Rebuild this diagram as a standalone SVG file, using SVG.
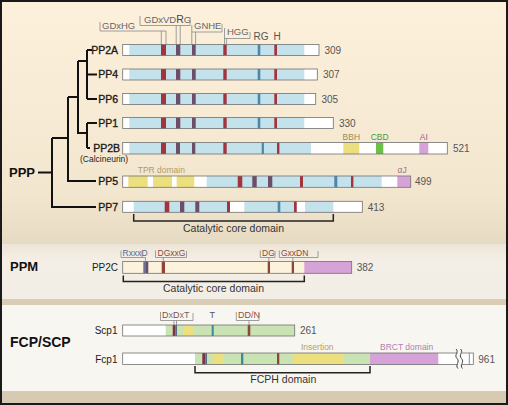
<svg xmlns="http://www.w3.org/2000/svg" width="508" height="405" viewBox="0 0 508 405">
<defs>
<linearGradient id="gPPP" x1="0" y1="0" x2="0" y2="1">
<stop offset="0" stop-color="#fdf1dc"/>
<stop offset="0.8" stop-color="#f3e6cf"/>
<stop offset="1" stop-color="#e7dac3"/>
</linearGradient>
<linearGradient id="gPPM" x1="0" y1="0" x2="0" y2="1">
<stop offset="0" stop-color="#ede5d7"/>
<stop offset="0.3" stop-color="#f4efe6"/>
<stop offset="1" stop-color="#f3eee5"/>
</linearGradient>
<style>
text{font-family:"Liberation Sans",Arial,sans-serif}
.bar{fill:none;stroke:#707070;stroke-width:0.8}
.w{fill:#ffffff}
.b{fill:#c3e2ec}
.r{fill:#a3343c}
.d{fill:#6e4d66}
.s{fill:#4b86ab}
.y{fill:#ece07e}
.g{fill:#c9e3b5}
.cg{fill:#6cc04a}
.p{fill:#d6a3d8}
.c{fill:#fdf3dd}
.rb{fill:#8e4538}
.sl{fill:#69709a}
.tl{fill:#3e8a9a}
.lab{font-size:10.5px;fill:#1a1a1a;stroke:#1a1a1a;stroke-width:0.35;text-anchor:end}
.lab2{font-size:10px;fill:#1a1a1a;text-anchor:end}
.num{font-size:10px;fill:#555}
.fam{font-size:13px;font-weight:bold;fill:#111}
.mot{font-size:9.5px;fill:#666}
.brk{fill:none;stroke:#888;stroke-width:0.8}
.tree{fill:none;stroke:#111;stroke-width:2}
.dom{fill:none;stroke:#222;stroke-width:1.5}
.cap{font-size:10.5px;fill:#333;text-anchor:middle}
.small{font-size:8.5px}
</style>
</defs>

<!-- backgrounds -->
<rect x="0" y="0" width="508" height="244" fill="url(#gPPP)"/>
<rect x="0" y="244" width="508" height="55" fill="url(#gPPM)"/>
<rect x="0" y="299" width="508" height="6" fill="#dacdb5"/>
<rect x="0" y="305" width="508" height="86" fill="#f8f6f1"/>
<rect x="0" y="391" width="508" height="14" fill="#d6cab2"/>
<rect x="1" y="1" width="506" height="403" fill="none" stroke="#1a1a1a" stroke-width="2"/>

<!-- family labels -->
<text class="fam" x="9" y="177">PPP</text>
<text class="fam" x="10" y="270.7">PPM</text>
<text class="fam" x="10" y="347" style="font-size:14px">FCP/SCP</text>

<!-- connectors (tree) -->
<g id="connectors">
<path class="tree" d="M38,172.5 H52 M52,138 V207 H96 M52,138 H68 M68,97 V181 H96 M68,97 H78 M78,61 V133 H87 M78,61 H87 M87,50 V99 M87,50 H92 M87,74.5 H97 M87,99 H97 M87,123 V148 M87,123 H97 M87,148 H90"/>
</g>

<!-- top motif labels -->
<g id="motifs-ppp">
<text class="mot" x="102" y="28.5">GDxHG</text>
<path class="brk" d="M100,22 V31 H166 V44.5 M161.3,31 V44.5"/>
<text class="mot" x="144" y="23">GDxVD<tspan style="font-size:10.5px;fill:#444">R</tspan>G</text>
<path class="brk" d="M140,16 V25.5 H190 V17 M176.2,25.5 V44.5 M180.2,25.5 V44.5"/>
<text class="mot" x="194" y="28.5">GNHE</text>
<path class="brk" d="M191.8,25 V44.5 M191.8,32 H222 V24 M195.6,32 V44.5"/>
<text class="mot" x="227" y="34.5">HGG</text>
<path class="brk" d="M224.5,28 V44.5 M224.5,38.5 H250 V32 M226.6,38.5 V44.5"/>
<text class="mot" x="253.5" y="39.5" style="font-size:10px;fill:#555">RG</text>
<text class="mot" x="273.5" y="39.5" style="font-size:10px;fill:#555">H</text>
</g>

<!-- PP2A -->
<g id="PP2A">
<text class="lab" x="118" y="53.5">PP2A</text>
<rect class="w" x="122.7" y="44.5" width="196.3" height="11"/>
<rect class="b" x="129.3" y="44.5" width="175" height="11"/>
<rect class="r" x="161" y="44.5" width="5" height="11"/>
<rect class="d" x="176" y="44.5" width="4.3" height="11"/>
<rect class="d" x="192" y="44.5" width="3.7" height="11"/>
<rect class="r" x="223.3" y="44.5" width="3.4" height="11"/>
<rect class="s" x="257.7" y="44.5" width="2.6" height="11"/>
<rect class="r" x="274.3" y="44.5" width="2.7" height="11"/>
<rect class="bar" x="122.7" y="44.5" width="196.3" height="11"/>
<text class="num" x="324.5" y="53.5">309</text>
</g>

<!-- PP4 -->
<g id="PP4">
<text class="lab" x="118" y="78">PP4</text>
<rect class="w" x="122.7" y="69" width="194.6" height="11"/>
<rect class="b" x="129.3" y="69" width="175" height="11"/>
<rect class="r" x="161" y="69" width="5" height="11"/>
<rect class="d" x="176" y="69" width="4.3" height="11"/>
<rect class="d" x="192" y="69" width="3.7" height="11"/>
<rect class="r" x="223.3" y="69" width="3.4" height="11"/>
<rect class="s" x="257.7" y="69" width="2.6" height="11"/>
<rect class="r" x="274.3" y="69" width="2.7" height="11"/>
<rect class="bar" x="122.7" y="69" width="194.6" height="11"/>
<text class="num" x="323" y="78">307</text>
</g>

<!-- PP6 -->
<g id="PP6">
<text class="lab" x="118" y="102.5">PP6</text>
<rect class="w" x="122.7" y="93.5" width="193" height="11"/>
<rect class="b" x="129.3" y="93.5" width="175" height="11"/>
<rect class="r" x="161" y="93.5" width="5" height="11"/>
<rect class="d" x="176" y="93.5" width="4.3" height="11"/>
<rect class="d" x="192" y="93.5" width="3.7" height="11"/>
<rect class="r" x="223.3" y="93.5" width="3.4" height="11"/>
<rect class="s" x="257.7" y="93.5" width="2.6" height="11"/>
<rect class="r" x="274.3" y="93.5" width="2.7" height="11"/>
<rect class="bar" x="122.7" y="93.5" width="193" height="11"/>
<text class="num" x="321.5" y="102.5">305</text>
</g>

<!-- PP1 -->
<g id="PP1">
<text class="lab" x="118" y="126.5">PP1</text>
<rect class="w" x="122.7" y="117.5" width="210.6" height="11"/>
<rect class="b" x="129.3" y="117.5" width="175" height="11"/>
<rect class="r" x="161" y="117.5" width="5" height="11"/>
<rect class="d" x="176" y="117.5" width="4.3" height="11"/>
<rect class="d" x="192" y="117.5" width="3.7" height="11"/>
<rect class="r" x="223.3" y="117.5" width="3.4" height="11"/>
<rect class="s" x="257.7" y="117.5" width="2.6" height="11"/>
<rect class="r" x="274.3" y="117.5" width="2.7" height="11"/>
<rect class="bar" x="122.7" y="117.5" width="210.6" height="11"/>
<text class="num" x="339" y="126.5">330</text>
</g>

<!-- PP2B -->
<g id="PP2B">
<text class="lab" x="120" y="151.5">PP2B</text>
<text x="80" y="162" style="font-size:8.5px;fill:#222">(Calcineurin)</text>
<rect class="w" x="122.7" y="142.5" width="324.6" height="11.5"/>
<rect class="b" x="129.3" y="142.5" width="181.7" height="11.5"/>
<rect class="r" x="161" y="142.5" width="5" height="11.5"/>
<rect class="d" x="176" y="142.5" width="4" height="11.5"/>
<rect class="d" x="192" y="142.5" width="3.3" height="11.5"/>
<rect class="r" x="223.3" y="142.5" width="3.4" height="11.5"/>
<rect class="s" x="261.7" y="142.5" width="2.2" height="11.5"/>
<rect class="r" x="277" y="142.5" width="2.4" height="11.5"/>
<rect class="y" x="343.3" y="142.5" width="16" height="11.5"/>
<rect class="cg" x="376" y="142.5" width="7.3" height="11.5"/>
<rect class="p" x="419.3" y="142.5" width="9" height="11.5"/>
<rect class="bar" x="122.7" y="142.5" width="324.6" height="11.5"/>
<text class="small" x="351.3" y="139.5" style="fill:#a08850;text-anchor:middle">BBH</text>
<text class="small" x="379.7" y="139.5" style="fill:#4a9a30;text-anchor:middle">CBD</text>
<text class="small" x="423.8" y="139.5" style="fill:#9a5a9a;text-anchor:middle">AI</text>
<text class="num" x="453" y="151.5">521</text>
</g>

<!-- PP5 -->
<g id="PP5">
<text class="lab" x="118" y="185">PP5</text>
<text class="small" x="137.7" y="172.5" style="fill:#b09a6a">TPR domain</text>
<text class="small" x="397.5" y="172.5" style="fill:#a07090">αJ</text>
<rect class="w" x="122.7" y="176" width="288" height="11.3"/>
<rect class="y" x="128.3" y="176" width="19.4" height="11.3"/>
<rect class="y" x="153" y="176" width="19" height="11.3"/>
<rect class="y" x="176.7" y="176" width="17.6" height="11.3"/>
<rect class="b" x="206.7" y="176" width="175" height="11.3"/>
<rect class="r" x="237.7" y="176" width="4.6" height="11.3"/>
<rect class="d" x="252.3" y="176" width="4.4" height="11.3"/>
<rect class="d" x="268" y="176" width="4.3" height="11.3"/>
<rect class="r" x="300" y="176" width="3" height="11.3"/>
<rect class="s" x="334.3" y="176" width="3" height="11.3"/>
<rect class="r" x="351" y="176" width="2.4" height="11.3"/>
<rect class="p" x="397.3" y="176" width="13.4" height="11.3"/>
<rect class="bar" x="122.7" y="176" width="288" height="11.3"/>
<text class="num" x="415" y="185">499</text>
</g>

<!-- PP7 -->
<g id="PP7">
<text class="lab" x="118" y="210.5">PP7</text>
<rect class="w" x="122.7" y="201.3" width="239.6" height="11"/>
<rect class="b" x="133.7" y="201.3" width="96.3" height="11"/>
<rect class="b" x="244.3" y="201.3" width="52.4" height="11"/>
<rect class="b" x="305" y="201.3" width="28.3" height="11"/>
<rect class="r" x="164.7" y="201.3" width="4.6" height="11"/>
<rect class="d" x="180" y="201.3" width="4.3" height="11"/>
<rect class="d" x="195.3" y="201.3" width="4" height="11"/>
<rect class="r" x="227" y="201.3" width="3" height="11"/>
<rect class="s" x="277.7" y="201.3" width="2.6" height="11"/>
<rect class="r" x="294" y="201.3" width="2.7" height="11"/>
<rect class="bar" x="122.7" y="201.3" width="239.6" height="11"/>
<text class="num" x="367.7" y="210.5">413</text>
<path class="dom" d="M133.7,214 V221 H333.3 V214"/>
<text class="cap" x="233.5" y="232">Catalytic core domain</text>
</g>

<!-- PP2C -->
<g id="PP2C">
<text class="lab2" x="118" y="270.5">PP2C</text>
<text x="122.5" y="256" style="font-size:8.5px;fill:#5a6890">RxxxD</text>
<path class="brk" d="M121,250.5 V257.5 H145.5 V261.5 M142,257.5 V251"/>
<text x="157.5" y="256" style="font-size:8.5px;fill:#8a4a3a">DGxxG</text>
<path class="brk" d="M155.5,250.5 V257.5 H186.5 V251 M163.3,257.5 V261.5"/>
<text x="262" y="256" style="font-size:8.5px;fill:#8a4a3a">DG</text>
<path class="brk" d="M260.3,250.5 V257.5 H275 V251 M268.8,257.5 V261.5"/>
<text x="281" y="256" style="font-size:8.5px;fill:#8a4a3a">GxxDN</text>
<path class="brk" d="M279.3,250.5 V257.5 H318 V251 M292.8,257.5 V261.5"/>
<rect class="c" x="122.7" y="261.5" width="229" height="11.8"/>
<rect class="sl" x="143.3" y="261.5" width="2.7" height="11.8"/>
<rect class="d" x="146" y="261.5" width="2.3" height="11.8"/>
<rect class="rb" x="161.7" y="261.5" width="3.3" height="11.8"/>
<rect class="rb" x="267.7" y="261.5" width="2.3" height="11.8"/>
<rect class="rb" x="291.7" y="261.5" width="2.3" height="11.8"/>
<rect class="p" x="304.3" y="261.5" width="47.4" height="11.8"/>
<rect class="bar" x="122.7" y="261.5" width="229" height="11.8"/>
<text class="num" x="356.7" y="270.5">382</text>
<path class="dom" d="M123.3,275.5 V281.5 H304.3 V275.5"/>
<text class="cap" x="213.5" y="291.5">Catalytic core domain</text>
</g>

<!-- Scp1 -->
<g id="Scp1">
<text class="lab2" x="117.5" y="334">Scp1</text>
<text x="162" y="318" style="font-size:9px;fill:#8b4a4a">D<tspan fill="#777">x</tspan>D<tspan fill="#777">x</tspan><tspan fill="#666">T</tspan></text>
<path class="brk" d="M160.5,312 V320.5 H193 V313 M174,320.5 V325 M176.5,320.5 V325"/>
<text x="209.5" y="318" style="font-size:9px;fill:#555">T</text>
<text x="238" y="318" style="font-size:9px;fill:#9a4a40">DD/N</text>
<path class="brk" d="M236.3,312 V320.5 H259 V313 M249,320.5 V325"/>
<rect class="w" x="122.7" y="325" width="172" height="11"/>
<rect class="g" x="165.7" y="325" width="129" height="11"/>
<rect fill="#7a3540" x="172.7" y="325" width="2.8" height="11"/>
<rect fill="#5a6a8a" x="175.5" y="325" width="1.5" height="11"/>
<rect class="y" x="183.3" y="325" width="10" height="11"/>
<rect class="tl" x="211.7" y="325" width="2" height="11"/>
<rect fill="#8a4a35" x="247.7" y="325" width="2.6" height="11"/>
<rect class="bar" x="122.7" y="325" width="172" height="11"/>
<text class="num" x="300" y="334">261</text>
</g>

<!-- Fcp1 -->
<g id="Fcp1">
<text class="lab2" x="117.5" y="362.5">Fcp1</text>
<text x="301" y="349.5" style="font-size:8.5px;fill:#b8a060">Insertion</text>
<text x="380" y="349.5" style="font-size:8.5px;fill:#b080b0">BRCT domain</text>
<rect class="w" x="122.7" y="353" width="350.6" height="11.5"/>
<rect class="g" x="195" y="353" width="175" height="11.5"/>
<rect fill="#7a3540" x="202.3" y="353" width="3.2" height="11.5"/>
<rect fill="#5a6a8a" x="205.5" y="353" width="1.5" height="11.5"/>
<rect class="y" x="212.7" y="353" width="10" height="11.5"/>
<rect class="tl" x="241" y="353" width="2.3" height="11.5"/>
<rect fill="#8a4a35" x="277" y="353" width="2.3" height="11.5"/>
<rect class="y" x="292.7" y="353" width="50.6" height="11.5"/>
<rect class="p" x="370" y="353" width="68.3" height="11.5"/>
<rect class="bar" x="122.7" y="353" width="350.6" height="11.5"/>
<path d="M469.3,353 V364.5" stroke="#707070" stroke-width="0.8"/>
<rect x="457.5" y="352" width="4" height="13.5" fill="#f8f6f1"/>
<path d="M456,349 C459.5,352 453.5,355 457,358.5 C460.5,362 454.5,365 458,368.5 M460.5,349 C464,352 458,355 461.5,358.5 C465,362 459,365 462.5,368.5" fill="none" stroke="#444" stroke-width="1"/>
<text class="num" x="478.3" y="362.5">961</text>
<path class="dom" d="M195,366 V372.7 H370 V366"/>
<text class="cap" x="283.3" y="383">FCPH domain</text>
</g>
</svg>
